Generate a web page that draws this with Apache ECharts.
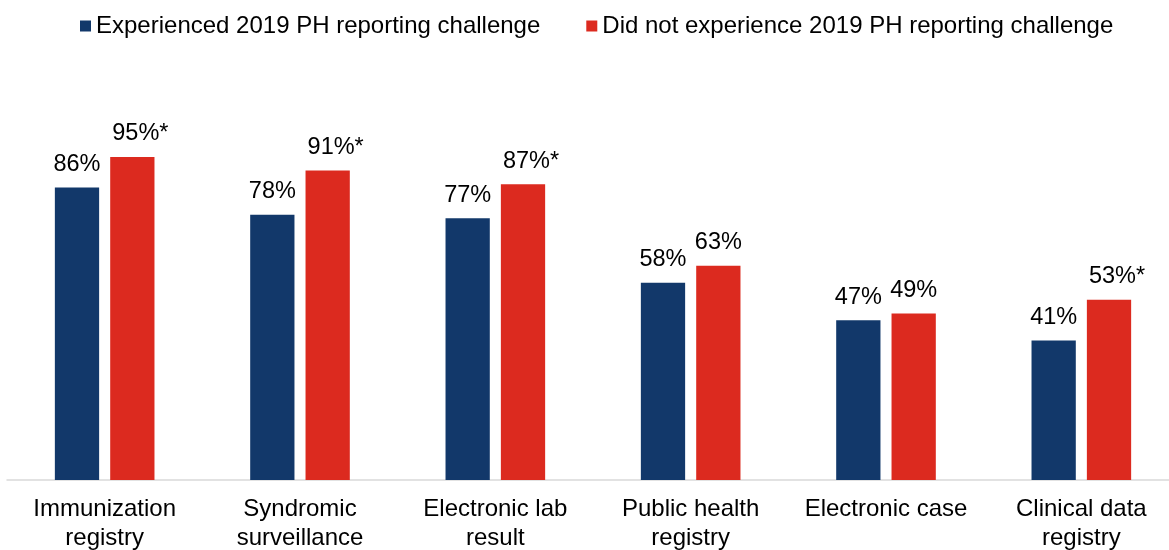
<!DOCTYPE html>
<html>
<head>
<meta charset="utf-8">
<script src="https://cdn.jsdelivr.net/npm/echarts@6/dist/echarts.min.js"></script>
<style>
  html, body { margin: 0; padding: 0; background: #fff; overflow: hidden; }
  #chart { width: 1169px; height: 550px; }
</style>
</head>
<body>
<div id="chart"></div>
<script>
// Public health reporting types, by 2019 reporting-challenge experience
const categories = [
  'Immunization\nregistry',
  'Syndromic\nsurveillance',
  'Electronic lab\nresult',
  'Public health\nregistry',
  'Electronic case',
  'Clinical data\nregistry'
];
const seriesNames = [
  'Experienced 2019 PH reporting challenge',
  'Did not experience 2019 PH reporting challenge'
];
const experienced = [86, 78, 77, 58, 47, 41];
const notExperienced = [95, 91, 87, 63, 49, 53];
// statistically significant difference marker (asterisk)
const significant = [true, true, true, false, false, true];

const FONT = '"Liberation Sans", Arial, sans-serif';
const NAVY = '#12386A';
const RED = '#DC2A1F';

function labelFor(flagged) {
  return {
    show: true,
    position: 'top',
    distance: 11,
    color: '#000',
    fontFamily: FONT,
    fontSize: 23.5,
    lineHeight: 24,
    offset: flagged ? [8, 0] : [0, 0],
    formatter: p => p.value + '%' + (flagged ? '*' : '')
  };
}

const chart = echarts.init(document.getElementById('chart'), null, { renderer: 'canvas' });
chart.setOption({
  animation: false,
  backgroundColor: '#fff',
  legend: {
    top: 14,
    left: 80,
    padding: 0,
    itemWidth: 11,
    itemHeight: 11,
    itemGap: 46,
    icon: 'rect',
    textStyle: { fontFamily: FONT, fontSize: 24, color: '#000' },
    data: seriesNames
  },
  // the plot band runs a little past the right edge of the canvas
  grid: {
    left: 7, width: 1172, top: 140, bottom: 70,
    containLabel: false,
    outerBoundsMode: 'none'
  },
  xAxis: {
    type: 'category',
    data: categories,
    axisLine: { lineStyle: { color: '#D9D9D9', width: 1.5 } },
    axisTick: { show: false },
    axisLabel: {
      interval: 0,
      margin: 15,
      color: '#000',
      fontFamily: FONT,
      fontSize: 24,
      lineHeight: 29
    }
  },
  yAxis: {
    type: 'value',
    min: 0,
    max: 100,
    show: false,
    splitLine: { show: false }
  },
  series: [
    {
      name: seriesNames[0],
      type: 'bar',
      barGap: '25%',
      barCategoryGap: '49%',
      itemStyle: { color: NAVY },
      data: experienced.map(v => ({ value: v, label: labelFor(false) }))
    },
    {
      name: seriesNames[1],
      type: 'bar',
      itemStyle: { color: RED },
      data: notExperienced.map((v, i) => ({ value: v, label: labelFor(significant[i]) }))
    }
  ]
});
</script>
</body>
</html>
